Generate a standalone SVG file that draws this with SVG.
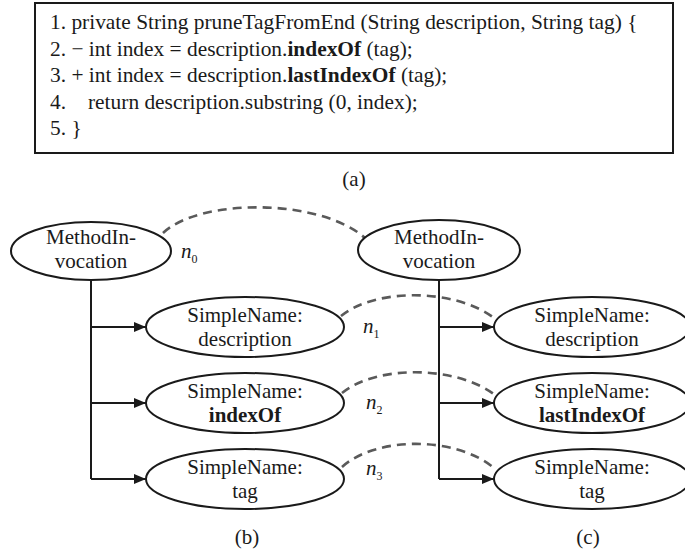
<svg xmlns="http://www.w3.org/2000/svg" width="685" height="557" viewBox="0 0 685 557">
<style>
text{font-family:"Liberation Serif","Times New Roman",serif;font-size:21px;fill:#1a1a1a}
.code{font-size:21.4px}
.c{text-anchor:middle}
.b{font-weight:bold}
.node{fill:#fff;stroke:#1a1a1a;stroke-width:2}
.tree{fill:none;stroke:#1a1a1a;stroke-width:2}
.map{fill:none;stroke:#5a5a5a;stroke-width:2.6;stroke-dasharray:9 6}
.lbl{font-style:italic;font-size:21px}
.sub{font-size:12px;font-style:normal}
</style>
<defs>
<marker id="arr" viewBox="0 0 12 10" refX="12" refY="5" markerWidth="12" markerHeight="10" markerUnits="userSpaceOnUse" orient="auto">
<path d="M0,0 L12,5 L0,10 Z" fill="#1a1a1a"/>
</marker>
</defs>
<rect width="685" height="557" fill="#fff"/>
<g id="code">
<rect x="35" y="3" width="638" height="150" fill="#fff" stroke="#1a1a1a" stroke-width="2"/>
<text class="code" x="50" y="29">1. private String pruneTagFromEnd (String description, String tag) {</text>
<text class="code" x="50" y="56">2. − int index = description.<tspan class="b">indexOf</tspan> (tag);</text>
<text class="code" x="50" y="82">3. + int index = description.<tspan class="b">lastIndexOf</tspan> (tag);</text>
<text class="code" x="50" y="109">4.<tspan x="88">return description.substring (0, index);</tspan></text>
<text class="code" x="50" y="135">5. }</text>
<text class="c" x="354" y="186">(a)</text>
</g>
<g id="connectors">
<path class="tree" d="M91,280 V479"/>
<path class="tree" d="M91,327 H146" marker-end="url(#arr)"/>
<path class="tree" d="M91,403 H146" marker-end="url(#arr)"/>
<path class="tree" d="M91,479 H146" marker-end="url(#arr)"/>
<path class="tree" d="M439,280 V479"/>
<path class="tree" d="M439,327 H494" marker-end="url(#arr)"/>
<path class="tree" d="M439,403 H494" marker-end="url(#arr)"/>
<path class="tree" d="M439,479 H494" marker-end="url(#arr)"/>
<path class="map" d="M163,233 C200,198 320,198 365,238"/>
<path class="map" d="M341,316 C375,288 455,288 494,318"/>
<path class="map" d="M342,393 C376,365 456,365 495,395"/>
<path class="map" d="M342,467 C376,436 456,436 494,468"/>
</g>
<g id="b-mi">
<ellipse class="node" cx="91" cy="251" rx="80" ry="29"/>
<text class="c" x="91" y="244">MethodIn-</text>
<text class="c" x="91" y="268">vocation</text>
</g>
<g id="b-desc">
<ellipse class="node" cx="245" cy="327" rx="99" ry="30"/>
<text class="c" x="245" y="322">SimpleName:</text>
<text class="c" x="245" y="346">description</text>
</g>
<g id="b-index">
<ellipse class="node" cx="245" cy="403" rx="99" ry="30"/>
<text class="c" x="245" y="398">SimpleName:</text>
<text class="c b" x="245" y="422">indexOf</text>
</g>
<g id="b-tag">
<ellipse class="node" cx="245" cy="479" rx="99" ry="30"/>
<text class="c" x="245" y="474">SimpleName:</text>
<text class="c" x="245" y="498">tag</text>
</g>
<g id="c-mi">
<ellipse class="node" cx="439" cy="250" rx="81" ry="30"/>
<text class="c" x="439" y="244">MethodIn-</text>
<text class="c" x="439" y="268">vocation</text>
</g>
<g id="c-desc">
<ellipse class="node" cx="592" cy="327" rx="98" ry="30"/>
<text class="c" x="592" y="322">SimpleName:</text>
<text class="c" x="592" y="346">description</text>
</g>
<g id="c-index">
<ellipse class="node" cx="592" cy="403" rx="98" ry="30"/>
<text class="c" x="592" y="398">SimpleName:</text>
<text class="c b" x="592" y="422">lastIndexOf</text>
</g>
<g id="c-tag">
<ellipse class="node" cx="592" cy="479" rx="98" ry="30"/>
<text class="c" x="592" y="474">SimpleName:</text>
<text class="c" x="592" y="498">tag</text>
</g>
<g id="labels">
<text class="lbl" x="181" y="258">n<tspan class="sub" dy="5">0</tspan></text>
<text class="lbl" x="363" y="333">n<tspan class="sub" dy="5">1</tspan></text>
<text class="lbl" x="366" y="409">n<tspan class="sub" dy="5">2</tspan></text>
<text class="lbl" x="366" y="475">n<tspan class="sub" dy="5">3</tspan></text>
<text class="c" x="247" y="544">(b)</text>
<text class="c" x="588" y="544">(c)</text>
</g>
</svg>
